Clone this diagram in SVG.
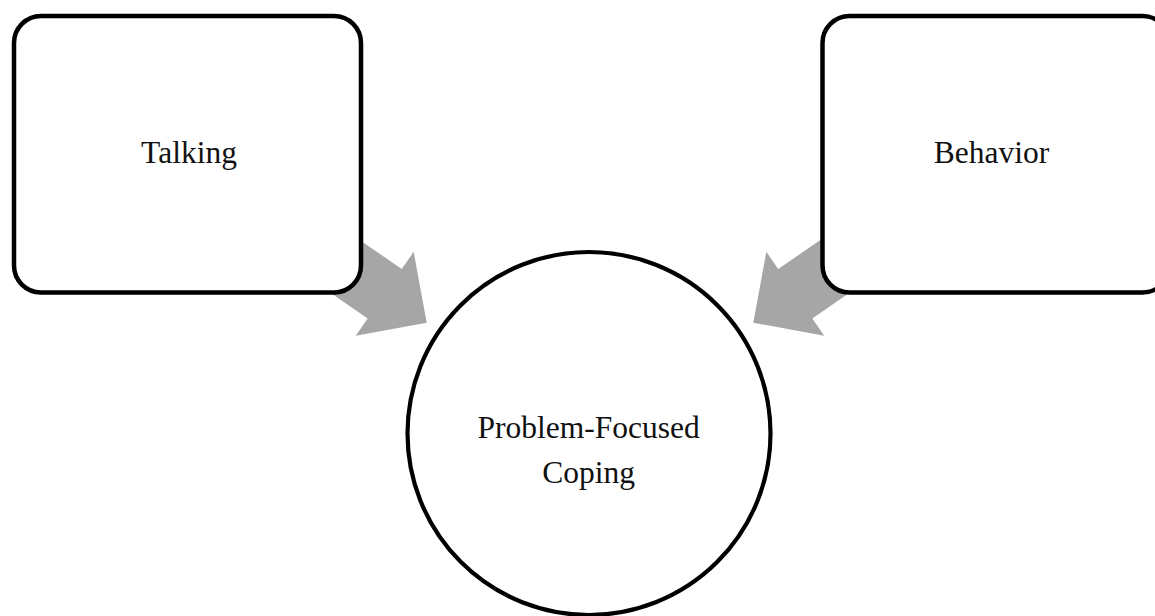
<svg xmlns="http://www.w3.org/2000/svg" width="1155" height="616" viewBox="0 0 1155 616">
  <defs>
    <style>
      .box { fill: #ffffff; stroke: #000000; stroke-width: 4.5; }
      .circ { fill: #ffffff; stroke: #000000; stroke-width: 4.2; }
      .label { font-family: "Liberation Serif", "Times New Roman", serif; font-size: 31.5px; fill: #111111; text-anchor: middle; }
      .arrow { fill: #a6a6a6; stroke: none; }
    </style>
    <!-- block arrow pointing along +x, tip at origin -->
    <path id="blockArrow" d="M0,0 L-51,51 L-51,30 L-165,30 L-165,-30 L-51,-30 L-51,-51 Z"/>
  </defs>
  <rect width="1155" height="616" fill="#ffffff"/>

  <g id="connectors">
    <use href="#blockArrow" class="arrow" transform="translate(426.7,322.7) rotate(34.6)"/>
    <use href="#blockArrow" class="arrow" transform="translate(753.3,322.7) rotate(145.4)"/>
  </g>

  <g id="node-talking">
    <rect class="box" x="14" y="16" width="347" height="276.5" rx="27" ry="27"/>
    <text class="label" x="189" y="163.3">Talking</text>
  </g>

  <g id="node-behavior">
    <rect class="box" x="822.5" y="16" width="347" height="276.5" rx="27" ry="27"/>
    <text class="label" x="991.5" y="163.3">Behavior</text>
  </g>

  <g id="node-coping">
    <circle class="circ" cx="589" cy="433.5" r="181.5"/>
    <text class="label" x="588.7" y="438.3">Problem-Focused</text>
    <text class="label" x="588.7" y="483.3">Coping</text>
  </g>
</svg>
